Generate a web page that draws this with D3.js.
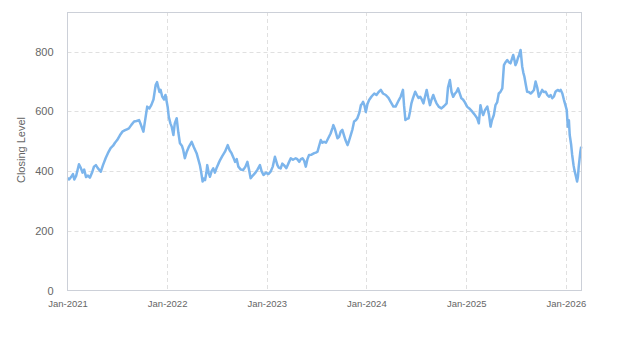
<!DOCTYPE html>
<html>
<head>
<meta charset="utf-8">
<script src="https://cdn.jsdelivr.net/npm/d3@7"></script>
<style>
  html, body { margin: 0; padding: 0; background: #fff; }
  svg { display: block; font-family: "Liberation Sans", Arial, sans-serif; }
</style>
</head>
<body>
<svg id="chart" width="623" height="350"></svg>
<script>
const dates = [
"2021-01-01","2021-01-07","2021-01-14","2021-01-21","2021-01-26","2021-02-02","2021-02-12","2021-02-19","2021-02-25","2021-03-03",
"2021-03-10","2021-03-17","2021-03-24","2021-04-01","2021-04-08","2021-04-15","2021-04-22","2021-05-03","2021-05-11","2021-05-21",
"2021-05-29","2021-06-08","2021-06-17","2021-06-24","2021-07-02","2021-07-12","2021-07-21","2021-07-31","2021-08-07","2021-08-14",
"2021-08-23","2021-09-02","2021-09-11","2021-09-20","2021-09-27","2021-10-06","2021-10-14","2021-10-20","2021-10-28","2021-11-04",
"2021-11-12","2021-11-20","2021-11-25","2021-11-29","2021-12-04","2021-12-08","2021-12-14","2021-12-21","2021-12-26","2022-01-03",
"2022-01-07","2022-01-13","2022-01-18","2022-01-24","2022-01-29","2022-02-05","2022-02-11","2022-02-17","2022-02-24","2022-03-01",
"2022-03-07","2022-03-14","2022-03-21","2022-04-01","2022-04-09","2022-04-19","2022-04-25","2022-05-01","2022-05-06","2022-05-11",
"2022-05-15","2022-05-20","2022-05-25","2022-05-28","2022-06-02","2022-06-07","2022-06-13","2022-06-19","2022-06-25","2022-07-01",
"2022-07-08","2022-07-14","2022-07-22","2022-08-01","2022-08-11","2022-08-18","2022-08-25","2022-09-01","2022-09-07","2022-09-13",
"2022-09-19","2022-09-28","2022-10-07","2022-10-15","2022-10-22","2022-10-28","2022-11-03","2022-11-11","2022-11-19","2022-11-28",
"2022-12-07","2022-12-13","2022-12-20","2022-12-29","2023-01-07","2023-01-15","2023-01-23","2023-01-31","2023-02-09","2023-02-14",
"2023-02-21","2023-02-27","2023-03-05","2023-03-14","2023-03-21","2023-03-30","2023-04-07","2023-04-17","2023-04-23","2023-04-30",
"2023-05-06","2023-05-12","2023-05-18","2023-05-24","2023-05-30","2023-06-05","2023-06-14","2023-06-24","2023-06-30","2023-07-06",
"2023-07-12","2023-07-18","2023-07-24","2023-07-30","2023-08-06","2023-08-11","2023-08-17","2023-08-23","2023-08-30","2023-09-02",
"2023-09-08","2023-09-17","2023-09-23","2023-09-29","2023-10-05","2023-10-11","2023-10-16","2023-10-24","2023-10-29","2023-11-05",
"2023-11-11","2023-11-17","2023-11-23","2023-11-29","2023-12-06","2023-12-12","2023-12-16","2023-12-20","2023-12-25","2023-12-30",
"2024-01-05","2024-01-11","2024-01-20","2024-01-30","2024-02-07","2024-02-15","2024-02-23","2024-03-02","2024-03-12","2024-03-22",
"2024-03-30","2024-04-09","2024-04-17","2024-04-29","2024-05-06","2024-05-14","2024-05-18","2024-05-23","2024-05-29","2024-06-04",
"2024-06-09","2024-06-14","2024-06-20","2024-06-28","2024-07-04","2024-07-10","2024-07-16","2024-07-22","2024-07-28","2024-08-03",
"2024-08-09","2024-08-15","2024-08-21","2024-08-27","2024-09-02","2024-09-08","2024-09-14","2024-09-23","2024-10-02","2024-10-12",
"2024-10-21","2024-10-26","2024-11-02","2024-11-08","2024-11-14","2024-11-21","2024-11-26","2024-12-02","2024-12-08","2024-12-14",
"2024-12-20","2024-12-27","2025-01-04","2025-01-12","2025-01-23","2025-01-31","2025-02-10","2025-02-16","2025-02-22","2025-02-27",
"2025-03-04","2025-03-11","2025-03-19","2025-03-25","2025-03-31","2025-04-05","2025-04-12","2025-04-18","2025-04-24","2025-04-30",
"2025-05-06","2025-05-13","2025-05-19","2025-05-25","2025-05-31","2025-06-06","2025-06-12","2025-06-17","2025-06-22","2025-06-27",
"2025-06-30","2025-07-05","2025-07-09","2025-07-14","2025-07-19","2025-07-25","2025-07-29","2025-08-02","2025-08-07","2025-08-12",
"2025-08-18","2025-08-25","2025-08-31","2025-09-06","2025-09-12","2025-09-18","2025-09-24","2025-09-30","2025-10-06","2025-10-12",
"2025-10-19","2025-10-25","2025-10-31","2025-11-06","2025-11-12","2025-11-18","2025-11-24","2025-11-29","2025-12-03","2025-12-08",
"2025-12-13","2025-12-19","2025-12-25","2025-12-29","2026-01-04","2026-01-08","2026-01-12","2026-01-15","2026-01-20","2026-01-24",
"2026-01-29","2026-02-01","2026-02-06","2026-02-11","2026-02-14","2026-02-17","2026-02-20","2026-02-23","2026-02-26"
];

const closes = [
377,372,380,390,372,385,423,410,395,405,
380,385,378,395,415,420,410,398,420,444,
460,477,485,495,504,520,532,537,540,543,
555,566,568,571,555,532,580,616,610,621,
640,688,698,683,665,672,650,640,655,615,
582,560,548,521,560,577,530,493,485,471,
443,465,480,498,480,460,440,420,395,365,
375,370,395,420,395,381,400,409,395,410,
425,437,450,465,487,470,460,445,431,440,
415,405,404,415,431,405,376,385,393,405,
420,400,387,395,390,398,415,448,420,412,
409,425,420,410,425,443,438,443,440,431,
440,443,435,415,440,454,455,460,462,465,
485,504,495,498,495,504,515,526,545,554,
540,510,515,532,538,520,505,487,500,521,
540,566,570,577,595,621,625,632,620,598,
625,638,650,660,655,665,672,660,655,645,
632,616,616,638,650,672,620,571,575,577,
600,627,645,666,655,645,649,640,627,650,
672,645,621,640,655,640,627,615,610,618,
627,680,705,665,649,660,665,677,660,644,
640,630,616,610,599,590,577,560,621,600,
588,605,616,590,549,570,588,621,630,660,
665,677,755,765,772,765,761,775,789,770,
755,765,778,790,806,750,730,716,690,666,
665,660,665,672,700,680,649,660,672,665,
666,655,649,655,644,650,666,670,672,668,
672,660,638,625,605,549,570,521,490,454,
420,404,385,365,380,415,440,465,482
];

const yTicks = [0, 200, 400, 600, 800];
const xTickYears = [2021, 2022, 2023, 2024, 2025, 2026];
const yTitle = "Closing Level";

(function () {
  const parse = d3.timeParse("%Y-%m-%d");
  const data = dates.map((d, i) => ({ date: parse(d), value: closes[i] }));

  const svg = d3.select("#chart");
  const pL = 67.5, pR = 582, pT = 12, pB = 290.5;

  const x = d3.scaleTime()
    .domain([parse("2021-01-01"), parse("2026-03-01")])
    .range([pL, pR]);
  const y = d3.scaleLinear().domain([0, 933]).range([pB, pT]);

  const grid = svg.append("g");
  grid.selectAll("line.h").data(yTicks.filter(t => t > 0)).join("line")
    .attr("class", "h")
    .attr("x1", pL).attr("x2", pR)
    .attr("y1", d => Math.round(y(d)) + 0.5).attr("y2", d => Math.round(y(d)) + 0.5)
    .attr("stroke", "#e0e0e0").attr("stroke-dasharray", "4,3");
  const xTicks = xTickYears.map(yr => new Date(yr, 0, 1));
  grid.selectAll("line.v").data(xTicks.filter((d, i) => i > 0)).join("line")
    .attr("class", "v")
    .attr("x1", d => Math.round(x(d)) + 0.5).attr("x2", d => Math.round(x(d)) + 0.5)
    .attr("y1", pT).attr("y2", pB)
    .attr("stroke", "#e0e0e0").attr("stroke-dasharray", "4,3");

  const line = d3.line().x(d => x(d.date)).y(d => y(d.value));
  svg.append("path").datum(data)
    .attr("d", line)
    .attr("fill", "none")
    .attr("stroke", "#7cb5ec")
    .attr("stroke-width", 2.5)
    .attr("stroke-linejoin", "round");

  svg.append("rect")
    .attr("x", 67.5).attr("y", pT + 0.5)
    .attr("width", 514).attr("height", pB - pT - 0.5)
    .attr("fill", "none").attr("stroke", "#ccd0d8").attr("stroke-width", 1);

  const yAxis = d3.axisLeft(y).tickValues(yTicks).tickSize(0).tickPadding(14);
  const gy = svg.append("g").attr("transform", `translate(${pL},0)`).call(yAxis);
  gy.select(".domain").remove();
  gy.selectAll("text").attr("fill", "#666").attr("font-size", "11px")
    .attr("font-family", "'Liberation Sans', Arial, sans-serif");

  const fmt = d3.timeFormat("%b-%Y");
  const xAxis = d3.axisBottom(x).tickValues(xTicks).tickFormat(fmt).tickSize(0).tickPadding(10);
  const gx = svg.append("g").attr("transform", `translate(0,${pB})`).call(xAxis);
  gx.select(".domain").remove();
  gx.selectAll("text").attr("fill", "#666").attr("font-size", "9.5px")
    .attr("font-family", "'Liberation Sans', Arial, sans-serif");

  svg.append("text")
    .attr("transform", "translate(25,150) rotate(-90)")
    .attr("text-anchor", "middle")
    .attr("fill", "#666")
    .attr("font-size", "11px")
    .attr("font-family", "'Liberation Sans', Arial, sans-serif")
    .text(yTitle);
})();
</script>
</body>
</html>
